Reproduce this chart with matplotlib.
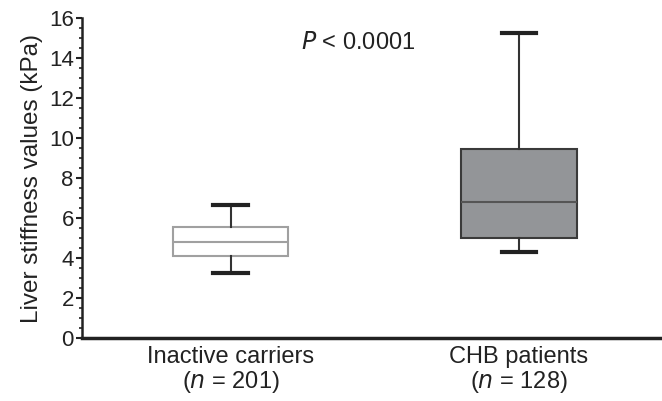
import matplotlib
matplotlib.use("Agg")
import matplotlib.pyplot as plt
from matplotlib.ticker import MultipleLocator

plt.rcParams['font.family'] = ['Liberation Sans', 'DejaVu Sans']

groups = ["Inactive carriers", "CHB patients"]
n_values = [201, 128]
whisker_low = [3.25, 4.3]
q1 = [4.1, 5.0]
median = [4.8, 6.8]
q3 = [5.55, 9.45]
whisker_high = [6.65, 15.25]
face_colors = ["white", "#939598"]
edge_colors = ["#a0a0a0", "#3a3a3a"]

fig = plt.figure(figsize=(6.62, 4.01), dpi=100)
ax = fig.add_axes([0.124, 0.157, 0.876, 0.798])

stats = []
for i, g in enumerate(groups):
    stats.append(dict(label=g, whislo=whisker_low[i], q1=q1[i], med=median[i],
                      q3=q3[i], whishi=whisker_high[i], fliers=[]))

for i, st in enumerate(stats):
    ax.bxp([st], positions=[i + 1], widths=0.40, patch_artist=True, showfliers=False,
           boxprops=dict(facecolor=face_colors[i], edgecolor=edge_colors[i], linewidth=1.5),
           medianprops=dict(color=edge_colors[i] if i == 0 else "#555555", linewidth=1.5),
           whiskerprops=dict(color="#333333", linewidth=1.5),
           capprops=dict(color="#222222", linewidth=3.0),
           capwidths=0.12)

ax.set_xlim(0.485, 2.496)
ax.set_ylim(0, 16)
ax.yaxis.set_major_locator(MultipleLocator(2))
ax.yaxis.set_minor_locator(MultipleLocator(0.5))
ax.set_xticks([1, 2])
ax.set_xticklabels([f"{g}\n($n$ = {n})" for g, n in zip(groups, n_values)], fontsize=17,
                   color="#222222", linespacing=1.05)
ax.tick_params(axis='x', length=0, pad=6)
ax.tick_params(axis='y', which='major', length=4, width=1.5, labelsize=16, colors="#222222", pad=2)
ax.tick_params(axis='y', which='minor', length=2.5, width=1.2, colors="#222222")

for s in ['top', 'right']:
    ax.spines[s].set_visible(False)
ax.spines['left'].set_linewidth(1.8)
ax.spines['bottom'].set_linewidth(2.5)
ax.spines['left'].set_color("#222222")
ax.spines['bottom'].set_color("#222222")

ax.set_ylabel("Liver stiffness values (kPa)", fontsize=17.5, color="#222222", labelpad=4)
ax.text(1.245, 14.75, "$P$ < 0.0001", fontsize=17, color="#222222", va='center', ha='left')

fig.savefig("out.png", dpi=100)
